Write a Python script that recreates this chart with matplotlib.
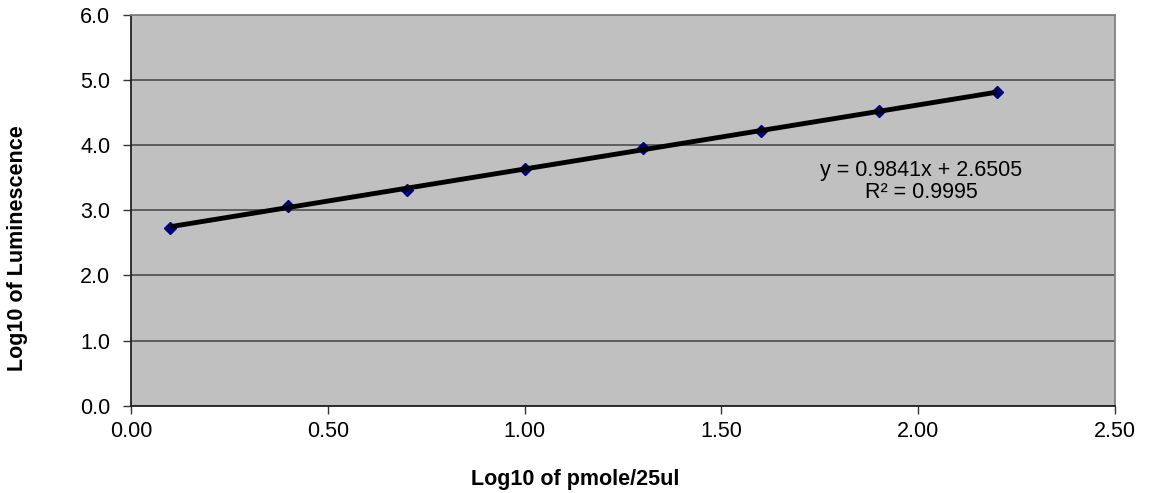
import matplotlib
matplotlib.use("Agg")
import matplotlib.pyplot as plt
import numpy as np

# standard curve: log10 concentration vs log10 luminescence
log_conc = [0.1, 0.4, 0.7, 1.0, 1.3, 1.6, 1.9, 2.2]
log_lum = [2.734, 3.07, 3.32, 3.64, 3.95, 4.22, 4.52, 4.815]
slope = 0.9841
intercept = 2.6505
eq_text = "y = 0.9841x + 2.6505\nR² = 0.9995"

plt.rcParams['font.family'] = ['Liberation Sans', 'DejaVu Sans']

fig = plt.figure(figsize=(11.53, 4.93), dpi=100)
ax = fig.add_axes([131 / 1153, 1 - 405.7 / 493, (1115 - 131) / 1153, (405.7 - 15) / 493])
ax.set_facecolor("#C0C0C0")

xs = np.array([log_conc[0], log_conc[-1]])
ax.plot(xs, slope * xs + intercept, color="black", lw=3.5, zorder=3, solid_capstyle="butt")
ax.plot(log_conc, log_lum, linestyle="none", marker="D", markersize=6,
        color="#000080", zorder=2)

ax.set_xlim(0, 2.5)
ax.set_ylim(0, 6)
ax.set_xticks(np.arange(0, 2.51, 0.5))
ax.set_yticks(np.arange(0, 6.1, 1.0))
ax.set_xticklabels(["%.2f" % v for v in np.arange(0, 2.51, 0.5)])
ax.set_yticklabels(["%.1f" % v for v in np.arange(0, 6.1, 1.0)])
ax.yaxis.grid(True, color="#555555", lw=1.3)
ax.set_axisbelow(True)
ax.tick_params(direction="out", length=6, width=1, color="#333333", labelsize=15.5)
ax.tick_params(axis="y", pad=9)
ax.tick_params(axis="x", pad=5)

for s in ["left", "bottom"]:
    ax.spines[s].set_color("#222222")
    ax.spines[s].set_linewidth(1.3)
for s in ["top", "right"]:
    ax.spines[s].set_color("#808080")
    ax.spines[s].set_linewidth(1.3)

ax.text(2.007, 3.44, eq_text, ha="center", va="center", fontsize=15.5,
        linespacing=1.05)

fig.text(575 / 1153, 1 - 479 / 493, "Log10 of pmole/25ul", ha="center", va="center",
         fontsize=15.5, fontweight="bold")
fig.text(18 / 1153, 1 - 248 / 493, "Log10 of Luminescence", ha="center", va="center",
         fontsize=15.5, fontweight="bold", rotation=90)

fig.savefig("out.png", dpi=100)
